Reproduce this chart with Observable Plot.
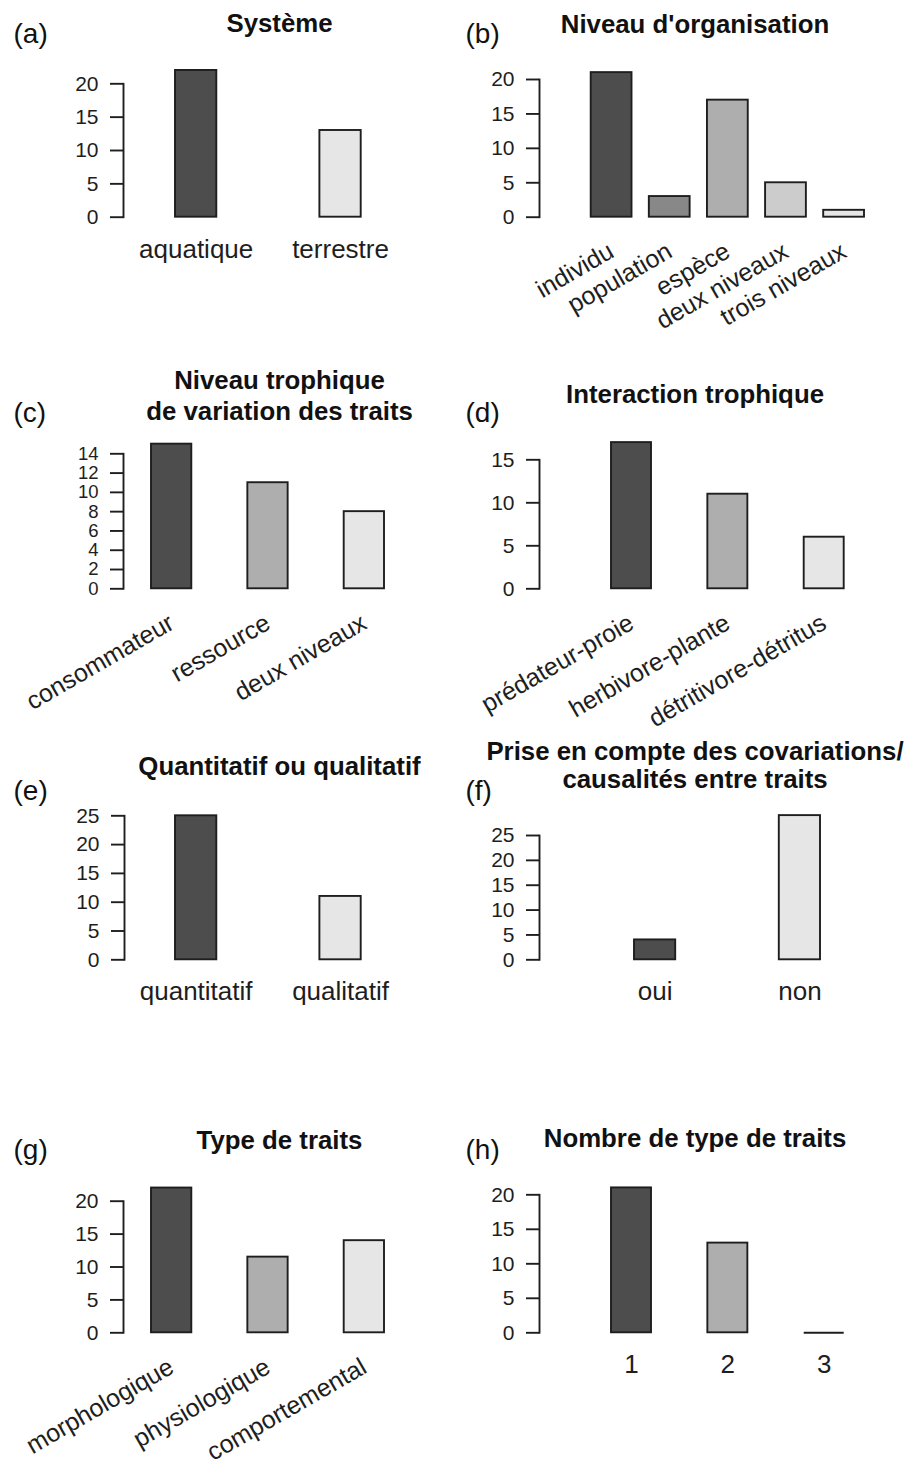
<!DOCTYPE html>
<html>
<head>
<meta charset="utf-8">
<script src="https://cdn.jsdelivr.net/npm/d3@7"></script>
<script src="https://cdn.jsdelivr.net/npm/@observablehq/plot@0.6"></script>
<style>
  body { margin: 0; background: #fff; }
  #page { position: relative; width: 907px; height: 1466px; background: #fff; overflow: hidden; }
  #page svg { position: absolute; overflow: visible; }
</style>
</head>
<body>
<div id="page"></div>
<script>
// ---------------- DATA ----------------
const systemeCategories = ["aquatique", "terrestre"];
const systemeValues = [22, 13];
const systemeTicks = [0, 5, 10, 15, 20];

const organisationCategories = ["individu", "population", "espèce", "deux niveaux", "trois niveaux"];
const organisationValues = [21, 3, 17, 5, 1];
const organisationTicks = [0, 5, 10, 15, 20];

const trophiqueCategories = ["consommateur", "ressource", "deux niveaux"];
const trophiqueValues = [15, 11, 8];
const trophiqueTicks = [0, 2, 4, 6, 8, 10, 12, 14];

const interactionCategories = ["prédateur-proie", "herbivore-plante", "détritivore-détritus"];
const interactionValues = [17, 11, 6];
const interactionTicks = [0, 5, 10, 15];

const quantiCategories = ["quantitatif", "qualitatif"];
const quantiValues = [25, 11];
const quantiTicks = [0, 5, 10, 15, 20, 25];

const covarCategories = ["oui", "non"];
const covarValues = [4, 29];
const covarTicks = [0, 5, 10, 15, 20, 25];

const typeCategories = ["morphologique", "physiologique", "comportemental"];
const typeValues = [22, 11.5, 14];
const typeTicks = [0, 5, 10, 15, 20];

const nombreCategories = ["1", "2", "3"];
const nombreValues = [21, 13, 0];
const nombreTicks = [0, 5, 10, 15, 20];

const panelLetters = ["(a)", "(b)", "(c)", "(d)", "(e)", "(f)", "(g)", "(h)"];
const panelTitles = [
  "Système",
  "Niveau d'organisation",
  "Niveau trophique\nde variation des traits",
  "Interaction trophique",
  "Quantitatif ou qualitatif",
  "Prise en compte des covariations/\ncausalités entre traits",
  "Type de traits",
  "Nombre de type de traits"
];

// ---------------- STYLE ----------------
const FONT = "'Liberation Sans', Arial, Helvetica, sans-serif";
const INK = "#1e1e1e";
const LW = 1.9;
const grays = {
  2: ["#4D4D4D", "#E6E6E6"],
  3: ["#4D4D4D", "#AEAEAE", "#E6E6E6"],
  5: ["#4D4D4D", "#888888", "#AEAEAE", "#CCCCCC", "#E6E6E6"]
};

// ---------------- LAYOUT (page pixels) ----------------
const layouts = [
  {cellX: 0,   cellY: 0,    cellW: 453, cellH: 355, axisX: 123, topPx: 83.3,  zeroPx: 216.7, firstLeft: 175,   lastRight: 360.7, barW: 41.3, titleX: 279,   titleBase: 31.5,  titleLH: 1.2,  letterX: 13,  letterBase: 42,   tickFont: 21,   rotate: false},
  {cellX: 453, cellY: 0,    cellW: 454, cellH: 355, axisX: 539, topPx: 79,    zeroPx: 216.7, firstLeft: 590.7, lastRight: 864,   barW: 40.8, titleX: 694.5, titleBase: 32,    titleLH: 1.2,  letterX: 465, letterBase: 42,   tickFont: 21,   rotate: true},
  {cellX: 0,   cellY: 355,  cellW: 453, cellH: 380, axisX: 123, topPx: 453.3, zeroPx: 588.3, firstLeft: 151,   lastRight: 384,   barW: 40.3, titleX: 279,   titleBase: 419.3, titleLH: 1.2,  letterX: 13,  letterBase: 421,  tickFont: 18.5, rotate: true},
  {cellX: 453, cellY: 355,  cellW: 454, cellH: 380, axisX: 539, topPx: 459.3, zeroPx: 588.3, firstLeft: 611,   lastRight: 843.7, barW: 40,   titleX: 694.5, titleBase: 402,   titleLH: 1.2,  letterX: 465, letterBase: 421,  tickFont: 21,   rotate: true},
  {cellX: 0,   cellY: 735,  cellW: 453, cellH: 365, axisX: 124, topPx: 815.3, zeroPx: 959.3, firstLeft: 175,   lastRight: 360.7, barW: 41.3, titleX: 279,   titleBase: 774,   titleLH: 1.2,  letterX: 13,  letterBase: 799,  tickFont: 21,   rotate: false},
  {cellX: 453, cellY: 735,  cellW: 454, cellH: 365, axisX: 539, topPx: 835,   zeroPx: 959.3, firstLeft: 634,   lastRight: 820,   barW: 41.2, titleX: 694.5, titleBase: 787.7, titleLH: 1.08, letterX: 465, letterBase: 799,  tickFont: 21,   rotate: false},
  {cellX: 0,   cellY: 1100, cellW: 453, cellH: 366, axisX: 123, topPx: 1200.7,zeroPx: 1332.3,firstLeft: 151,   lastRight: 384,   barW: 40.3, titleX: 279,   titleBase: 1148,  titleLH: 1.2,  letterX: 13,  letterBase: 1158, tickFont: 21,   rotate: true},
  {cellX: 453, cellY: 1100, cellW: 454, cellH: 366, axisX: 539, topPx: 1194.3,zeroPx: 1332.3,firstLeft: 611,   lastRight: 843.7, barW: 40,   titleX: 694.5, titleBase: 1146,  titleLH: 1.2,  letterX: 465, letterBase: 1158, tickFont: 21,   rotate: false}
];

const panels = [
  [systemeCategories, systemeValues, systemeTicks],
  [organisationCategories, organisationValues, organisationTicks],
  [trophiqueCategories, trophiqueValues, trophiqueTicks],
  [interactionCategories, interactionValues, interactionTicks],
  [quantiCategories, quantiValues, quantiTicks],
  [covarCategories, covarValues, covarTicks],
  [typeCategories, typeValues, typeTicks],
  [nombreCategories, nombreValues, nombreTicks]
];

function makePanel(i) {
  const [cats, vals, ticks] = panels[i];
  const L = layouts[i];
  const data = cats.map((c, k) => ({cat: c, value: vals[k]}));
  const n = cats.length;
  const pitch = (L.lastRight - L.barW - L.firstLeft) / (n - 1);
  const padInner = 1 - L.barW / pitch;
  const frameRight = 2 * L.titleX - L.axisX;
  const marginLeft = L.axisX - L.cellX;
  const marginRight = L.cellX + L.cellW - frameRight;
  const marginTop = L.topPx - L.cellY;
  const marginBottom = L.cellY + L.cellH - L.zeroPx;

  const labelMark = L.rotate
    ? Plot.text(data, {x: "cat", text: "cat", frameAnchor: "bottom", dy: 32, rotate: -30,
        textAnchor: "end", lineAnchor: "middle", fontSize: 25, fill: INK})
    : Plot.text(data, {x: "cat", text: "cat", frameAnchor: "bottom", dy: 40.5,
        textAnchor: "middle", lineAnchor: "bottom", fontSize: 26, fill: INK});

  const svg = Plot.plot({
    width: L.cellW,
    height: L.cellH,
    marginLeft, marginRight, marginTop, marginBottom,
    x: {domain: cats, range: [L.firstLeft - L.cellX, L.lastRight - L.cellX],
        paddingInner: padInner, paddingOuter: 0, align: 0.5, round: false, axis: null},
    y: {domain: [0, ticks[ticks.length - 1]]},
    color: {domain: cats, range: grays[n]},
    style: {fontFamily: FONT, background: "transparent", overflow: "visible", color: INK},
    marks: [
      Plot.barY(data, {x: "cat", y: "value", fill: "cat", stroke: INK, strokeWidth: LW}),
      Plot.tickY(data.filter(d => d.value === 0), {x: "cat", y: "value", stroke: INK, strokeWidth: LW}),
      Plot.frame({anchor: "left", stroke: INK, strokeWidth: LW}),
      Plot.axisY(ticks, {tickSize: 13, tickPadding: 12, fontSize: L.tickFont, stroke: INK, strokeWidth: LW, fill: INK, label: null}),
      labelMark,
      Plot.text([panelTitles[i]], {text: d => d, frameAnchor: "top", dy: L.titleBase - L.topPx,
        lineAnchor: "bottom", lineHeight: L.titleLH, fontSize: 25.8, fontWeight: "bold", fill: "#111"}),
      Plot.text([panelLetters[i]], {text: d => d, frameAnchor: "top-left", dx: L.letterX - L.axisX,
        dy: L.letterBase - L.topPx, textAnchor: "start", lineAnchor: "bottom", fontSize: 28, fill: "#111"})
    ]
  });
  svg.style.left = L.cellX + "px";
  svg.style.top = L.cellY + "px";
  return svg;
}

const page = document.getElementById("page");
for (let i = 0; i < panels.length; i++) page.appendChild(makePanel(i));
</script>
</body>
</html>
